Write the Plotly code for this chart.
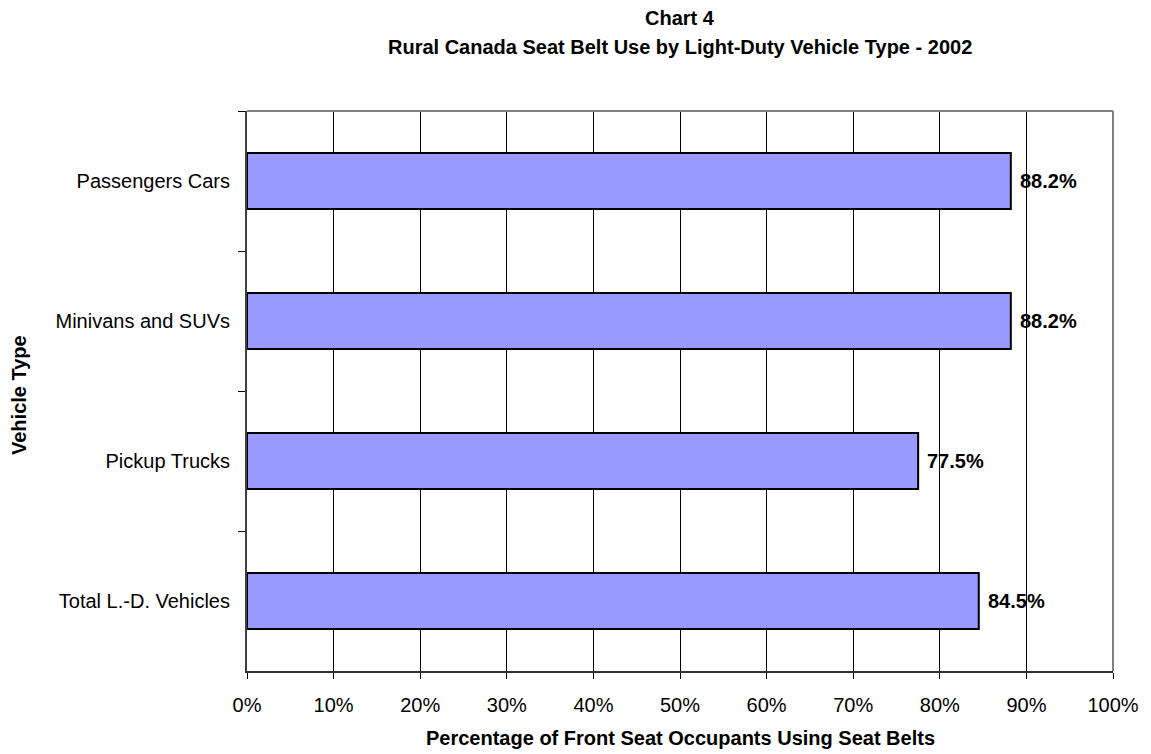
import plotly.graph_objects as go

# Seat belt use by vehicle type (rural Canada, 2002)
vehicle_types = ["Passengers Cars", "Minivans and SUVs", "Pickup Trucks", "Total L.-D. Vehicles"]
belt_use_pct = [88.2, 88.2, 77.5, 84.5]
x_tick_values = [0, 10, 20, 30, 40, 50, 60, 70, 80, 90, 100]
x_tick_labels = [f"{v}%" for v in x_tick_values]

FONT = "Arial, Liberation Sans, sans-serif"
BAR_FILL = "#9999FF"

fig = go.Figure()
fig.add_trace(go.Bar(
    x=belt_use_pct,
    y=vehicle_types,
    orientation="h",
    width=0.4,
    marker=dict(color=BAR_FILL, line=dict(color="black", width=2)),
    hoverinfo="x+y",
))

annotations = []
# value labels just past each bar end
for cat, val in zip(vehicle_types, belt_use_pct):
    annotations.append(dict(
        x=val, y=cat, xref="x", yref="y",
        text=f"<b>{val:.1f}%</b>", showarrow=False,
        xanchor="left", yanchor="middle", xshift=7,
        font=dict(family=FONT, size=20, color="black"),
    ))

# two-line title
annotations.append(dict(
    x=0.5, y=1, xref="paper", yref="paper", yshift=93,
    text="<b>Chart 4</b>", showarrow=False, xanchor="center", yanchor="middle",
    font=dict(family=FONT, size=20, color="black"),
))
annotations.append(dict(
    x=0.5, y=1, xref="paper", yref="paper", yshift=64,
    text="<b>Rural Canada Seat Belt Use by Light-Duty Vehicle Type - 2002</b>",
    showarrow=False, xanchor="center", yanchor="middle",
    font=dict(family=FONT, size=20, color="black"),
))
# axis titles
annotations.append(dict(
    x=0.5, y=0, xref="paper", yref="paper", yshift=-67,
    text="<b>Percentage of Front Seat Occupants Using Seat Belts</b>",
    showarrow=False, xanchor="center", yanchor="middle",
    font=dict(family=FONT, size=20, color="black"),
))
annotations.append(dict(
    x=0, y=0.5, xref="paper", yref="paper", xshift=-228, yshift=-4,
    text="<b>Vehicle Type</b>", textangle=-90,
    showarrow=False, xanchor="center", yanchor="middle",
    font=dict(family=FONT, size=20, color="black"),
))

# gray frame on the top and right edges
shapes = [
    dict(type="line", xref="paper", yref="paper", x0=0, x1=1, y0=1, y1=1,
         line=dict(color="#808080", width=2)),
    dict(type="line", xref="paper", yref="paper", x0=1, x1=1, y0=0, y1=1,
         line=dict(color="#808080", width=2)),
]

fig.update_layout(
    width=1151, height=754,
    margin=dict(l=247, r=32, t=111, b=83),
    paper_bgcolor="white", plot_bgcolor="white",
    showlegend=False,
    font=dict(family=FONT, size=20, color="black"),
    annotations=annotations,
    shapes=shapes,
    xaxis=dict(
        range=[0, 100],
        tickvals=x_tick_values, ticktext=x_tick_labels,
        showgrid=True, gridcolor="black", gridwidth=1,
        zeroline=False,
        showline=True, linecolor="#303030", linewidth=2,
        ticks="outside", ticklen=6, tickcolor="black", tickwidth=1,
        ticklabelstandoff=9,
        tickfont=dict(family=FONT, size=20, color="black"),
    ),
    yaxis=dict(
        categoryorder="array", categoryarray=vehicle_types,
        autorange="reversed",
        showgrid=False, zeroline=False,
        showline=True, linecolor="#404040", linewidth=2,
        ticks="outside", ticklen=7, tickcolor="black", tickwidth=1,
        tickson="boundaries",
        ticklabelstandoff=11,
        tickfont=dict(family=FONT, size=20, color="black"),
    ),
)

fig.write_html("out.html")
